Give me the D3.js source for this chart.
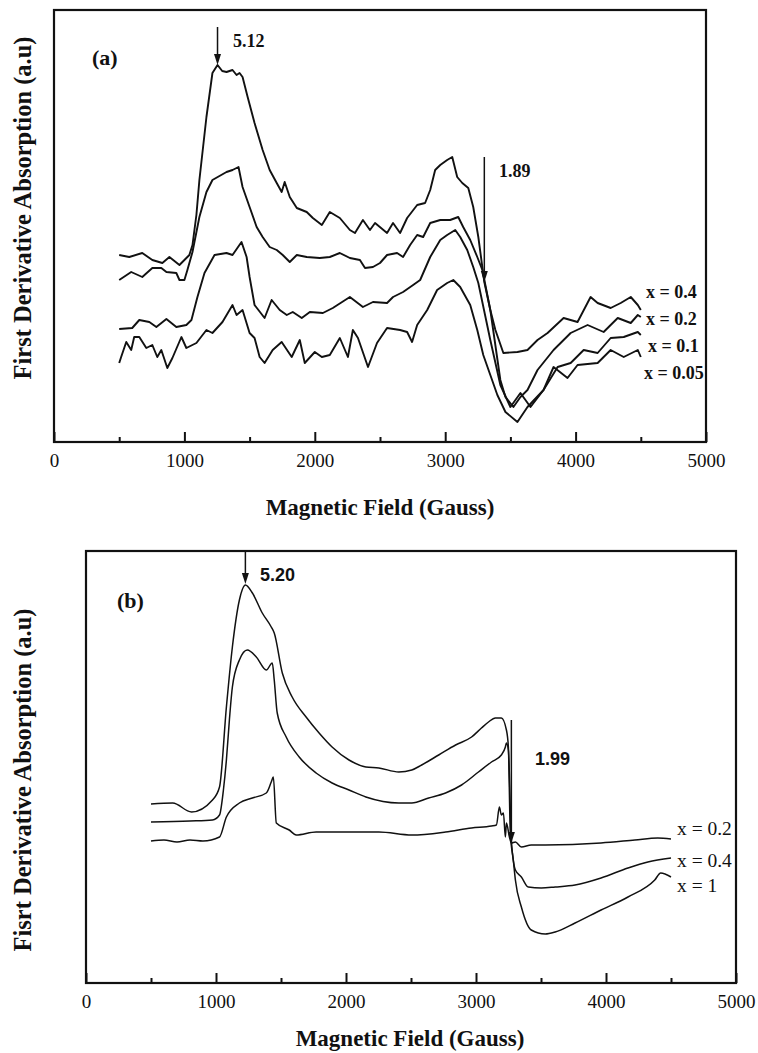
<!DOCTYPE html>
<html><head><meta charset="utf-8">
<script src="https://cdn.jsdelivr.net/npm/d3@7"></script>
<style>body{margin:0;background:#fff} svg{display:block}</style>
</head><body>
<svg id="chart" width="758" height="1053"></svg>
<script>
// ---- axis ticks ----
const majorTicks = [0, 1000, 2000, 3000, 4000, 5000];
const minorTicks = [500, 1500, 2500, 3500, 4500];

// ---- panel (a) series: [field (G), intensity (a.u.)] ----
const a_x04 = [[500,187],[577,185],[677,189],[754,182],[831,179],[885,185],[962,177],[1038,187],[1062,197],[1092,227],[1115,262],[1169,325],[1215,369],[1254,377],[1290,371],[1323,370],[1369,372],[1400,367],[1423,369],[1446,365],[1485,345],[1538,319],[1600,292],[1654,272],[1708,259],[1746,250],[1769,260],[1808,245],[1862,234],[1938,230],[1985,224],[2054,217],[2115,230],[2192,224],[2269,212],[2308,209],[2369,222],[2423,212],[2462,219],[2554,209],[2600,219],[2654,209],[2708,224],[2785,237],[2846,239],[2885,252],[2923,272],[2962,277],[3015,282],[3054,285],[3092,265],[3131,259],[3177,254],[3215,235],[3254,205],[3300,160],[3346,132],[3385,112],[3446,89],[3554,90],[3631,92],[3708,102],[3785,109],[3908,124],[4015,120],[4115,145],[4169,139],[4269,134],[4346,139],[4423,145],[4477,137],[4500,132]];
const a_x02 = [[500,162],[592,170],[677,165],[754,174],[823,174],[862,170],[938,169],[962,162],[1000,162],[1023,172],[1062,190],[1115,225],[1169,250],[1215,262],[1323,270],[1369,272],[1415,275],[1446,255],[1500,235],[1554,215],[1600,205],[1654,195],[1708,192],[1754,187],[1808,180],[1862,187],[1938,185],[2038,184],[2115,185],[2192,189],[2269,184],[2346,182],[2385,174],[2446,175],[2500,179],[2554,187],[2631,189],[2677,185],[2731,197],[2785,207],[2831,205],[2885,219],[2962,222],[3038,222],[3100,225],[3138,215],[3192,202],[3246,185],[3285,172],[3346,132],[3423,62],[3462,45],[3523,35],[3577,45],[3631,52],[3708,72],[3831,92],[3962,109],[4092,117],[4215,110],[4323,124],[4423,119],[4477,127],[4500,125]];
const a_x01 = [[500,113],[600,114],[654,122],[731,120],[785,115],[862,123],[938,115],[1015,117],[1054,122],[1100,145],[1154,169],[1231,187],[1323,189],[1369,187],[1438,200],[1477,185],[1500,165],[1538,137],[1615,124],[1669,142],[1731,132],[1785,127],[1831,130],[1900,124],[1962,130],[2062,129],[2138,134],[2269,145],[2369,135],[2446,140],[2554,139],[2600,145],[2677,150],[2754,157],[2808,162],[2885,185],[2962,202],[3015,207],[3077,212],[3115,205],[3169,192],[3215,175],[3254,159],[3346,102],[3423,57],[3500,35],[3577,49],[3654,35],[3754,52],[3862,75],[3962,79],[4062,92],[4169,89],[4269,104],[4369,105],[4477,110],[4500,107]];
const a_x005 = [[500,79],[515,85],[554,100],[592,92],[615,105],[654,105],[708,94],[754,97],[792,85],[823,92],[869,74],[908,84],[977,105],[1015,94],[1092,99],[1169,112],[1215,109],[1292,120],[1369,137],[1400,127],[1446,132],[1500,109],[1538,104],[1577,85],[1615,79],[1677,92],[1746,100],[1823,85],[1885,102],[1923,79],[2000,90],[2054,85],[2115,87],[2192,104],[2254,85],[2292,112],[2331,104],[2408,75],[2477,99],[2554,114],[2654,112],[2708,110],[2746,100],[2785,117],[2862,132],[2938,152],[3015,159],[3062,162],[3115,155],[3192,137],[3246,112],[3292,87],[3346,67],[3400,47],[3462,30],[3554,20],[3631,35],[3754,52],[3831,75],[3938,64],[4015,77],[4169,79],[4269,92],[4369,85],[4477,92],[4500,85]];

// ---- panel (b) series ----
const b_x1 = [[500,179],[667,180],[812,171],[973,183],[1027,196],[1080,276],[1126,336],[1180,383],[1226,398],[1280,390],[1356,370],[1425,356],[1448,350],[1510,310],[1586,286],[1693,266],[1793,250],[1893,236],[2023,223],[2153,216],[2253,215],[2406,211],[2506,213],[2582,218],[2713,228],[2843,238],[2966,246],[3042,255],[3096,261],[3149,265],[3195,265],[3234,253],[3249,236],[3264,150],[3287,123],[3303,103],[3349,76],[3425,53],[3533,49],[3609,51],[3762,60],[3962,73],[4169,86],[4375,103],[4421,110],[4500,106]];
const b_x04 = [[500,161],[800,162],[973,163],[1027,168],[1057,193],[1080,223],[1103,263],[1126,296],[1180,323],[1241,333],[1310,326],[1387,313],[1433,320],[1448,303],[1471,270],[1540,246],[1640,226],[1770,210],[1893,200],[2023,193],[2153,186],[2406,180],[2506,180],[2636,185],[2766,190],[2889,198],[3019,211],[3119,221],[3195,228],[3226,236],[3234,240],[3249,233],[3272,143],[3303,113],[3349,106],[3402,96],[3502,95],[3609,96],[3762,98],[3962,105],[4169,115],[4322,121],[4500,125]];
const b_x02 = [[500,142],[600,143],[700,141],[800,143],[900,142],[1027,146],[1080,166],[1180,180],[1280,185],[1387,190],[1425,201],[1441,206],[1464,160],[1563,153],[1617,148],[1770,151],[2023,151],[2253,151],[2506,148],[2766,151],[2966,155],[3119,157],[3157,158],[3180,176],[3195,168],[3211,170],[3226,146],[3234,160],[3257,146],[3272,140],[3303,141],[3349,136],[3425,138],[3533,138],[3962,140],[4222,143],[4398,145],[4500,144]];

// ---- labels ----
const aSeriesLabels = ["x = 0.4", "x = 0.2", "x = 0.1", "x = 0.05"];
const bSeriesLabels = ["x = 0.2", "x = 0.4", "x = 1"];
const xTitle = "Magnetic Field (Gauss)";
const aYTitle = "First Derivative Absorption (a.u)";
const bYTitle = "Fisrt Derivative Absorption (a.u)";

const SERIF = "'Liberation Serif','Times New Roman',serif";
const SANS = "'Liberation Sans',Arial,sans-serif";
const svg = d3.select("#chart");

function panel(o) {
  const g = svg.append("g");
  const x = d3.scaleLinear().domain([0, 5000]).range([o.x0, o.x1]);
  const y = d3.scaleLinear().domain([0, 432]).range([o.y1, o.y0]);
  const line = d3.line().x(d => x(d[0])).y(d => y(d[1])).curve(o.curve);

  o.series.forEach(s => {
    g.append("path").datum(s).attr("d", line)
      .attr("fill", "none").attr("stroke", "#111")
      .attr("stroke-width", o.sw).attr("stroke-linejoin", "round");
  });

  // axis
  const ax = g.append("g").attr("transform", `translate(0,${o.y1})`)
    .call(d3.axisBottom(x).tickValues(majorTicks).tickFormat(d3.format("d"))
      .tickSizeInner(-10).tickSizeOuter(0).tickPadding(11.5));
  ax.select(".domain").remove();
  ax.selectAll("line").attr("stroke", "#111").attr("stroke-width", 2);
  ax.selectAll("text").attr("font-family", SERIF).attr("font-size", 19).attr("fill", "#111");
  const axm = g.append("g").attr("transform", `translate(0,${o.y1})`)
    .call(d3.axisBottom(x).tickValues(minorTicks).tickSizeInner(-5).tickSizeOuter(0).tickFormat(""));
  axm.select(".domain").remove();
  axm.selectAll("line").attr("stroke", "#111").attr("stroke-width", 2);

  g.append("rect").attr("x", o.x0).attr("y", o.y0)
    .attr("width", o.x1 - o.x0).attr("height", o.y1 - o.y0)
    .attr("fill", "none").attr("stroke", "#111").attr("stroke-width", 2.2);

  // arrows
  o.arrows.forEach(a => {
    const ax0 = x(a.f), yt = y(a.from), yb = y(a.to);
    g.append("line").attr("x1", ax0).attr("x2", ax0).attr("y1", yt).attr("y2", yb - 6)
      .attr("stroke", "#111").attr("stroke-width", 1.5);
    g.append("path").attr("d", `M${ax0},${yb} L${ax0 - 3.5},${yb - 11} L${ax0 + 3.5},${yb - 11} Z`)
      .attr("fill", "#111");
    g.append("text").attr("x", a.tx).attr("y", a.ty).text(a.label)
      .attr("font-family", a.font).attr("font-weight", "bold").attr("font-size", 18).attr("fill", "#111");
  });

  // panel letter
  g.append("text").attr("x", o.letter.x).attr("y", o.letter.y).text(o.letter.t)
    .attr("font-family", SERIF).attr("font-weight", "bold").attr("font-size", 22).attr("fill", "#111");

  // series labels
  o.labels.forEach(l => {
    g.append("text").attr("x", l.x).attr("y", l.y).text(l.t)
      .attr("font-family", SERIF).attr("font-weight", o.labelWeight).attr("font-size", o.labelSize).attr("fill", "#111");
  });

  // axis titles
  g.append("text").attr("x", o.xtx).attr("y", o.xty).attr("text-anchor", "middle").text(xTitle)
    .attr("font-family", SERIF).attr("font-weight", "bold").attr("font-size", 23).attr("fill", "#111");
  g.append("text").attr("transform", `translate(31,${o.ytc}) rotate(-90)`).attr("text-anchor", "middle").text(o.ytitle)
    .attr("font-family", SERIF).attr("font-weight", "bold").attr("font-size", 24.5).attr("fill", "#111");
}

panel({
  x0: 54, x1: 706, y0: 10, y1: 442, sw: 1.9, curve: d3.curveLinear,
  series: [a_x04, a_x02, a_x01, a_x005],
  arrows: [
    {f: 1254, from: 415, to: 377, label: "5.12", tx: 233, ty: 47, font: SERIF},
    {f: 3300, from: 285, to: 160, label: "1.89", tx: 499, ty: 177, font: SERIF}
  ],
  letter: {t: "(a)", x: 92, y: 65},
  labels: [
    {t: aSeriesLabels[0], x: 646, y: 298},
    {t: aSeriesLabels[1], x: 646, y: 325},
    {t: aSeriesLabels[2], x: 648, y: 352},
    {t: aSeriesLabels[3], x: 644, y: 379}
  ],
  labelWeight: "bold", labelSize: 18,
  xtx: 380, xty: 515, ytc: 208, ytitle: aYTitle
});

panel({
  x0: 86, x1: 736, y0: 551, y1: 983, sw: 1.5, curve: d3.curveMonotoneX,
  series: [b_x1, b_x04, b_x02],
  arrows: [
    {f: 1226, from: 431, to: 399, label: "5.20", tx: 260, ty: 581, font: SANS},
    {f: 3272, from: 263, to: 140, label: "1.99", tx: 535, ty: 765, font: SANS}
  ],
  letter: {t: "(b)", x: 117, y: 608},
  labels: [
    {t: bSeriesLabels[0], x: 677, y: 835},
    {t: bSeriesLabels[1], x: 677, y: 867},
    {t: bSeriesLabels[2], x: 677, y: 892}
  ],
  labelWeight: "normal", labelSize: 19.5,
  xtx: 410, xty: 1046, ytc: 780, ytitle: bYTitle
});
</script>
</body></html>
